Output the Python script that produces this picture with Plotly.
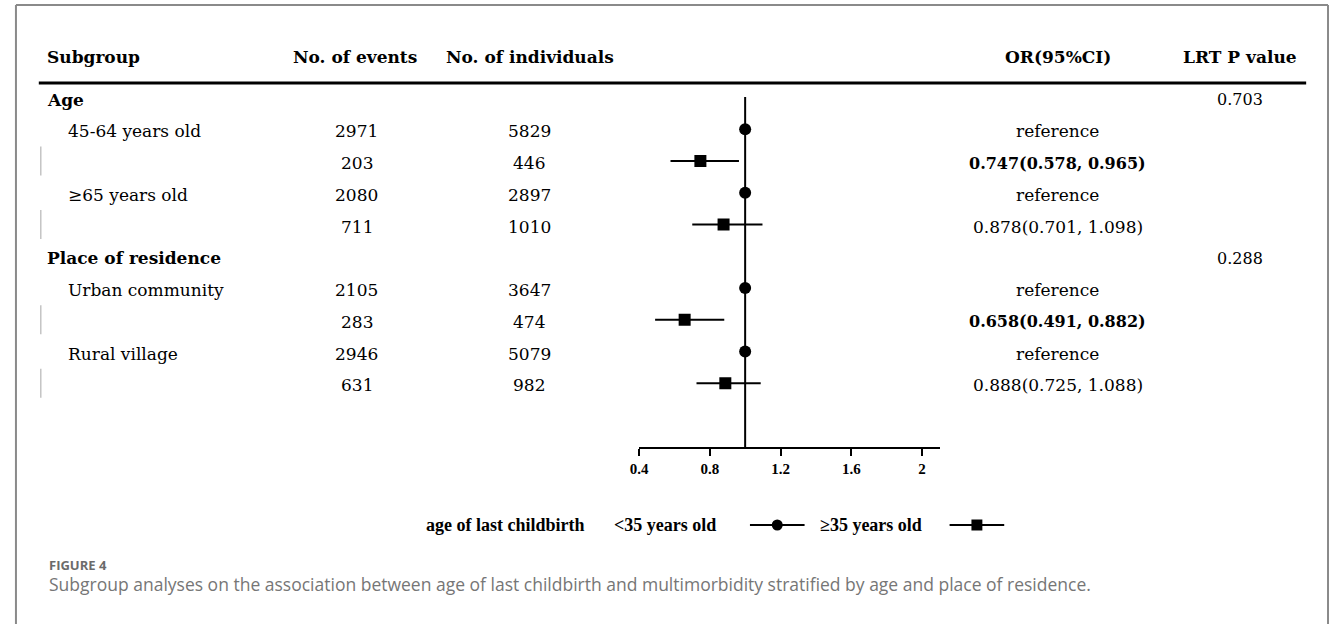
import plotly.graph_objects as go

W, H = 1330, 624

# ---------------- data ----------------
subgroups = ["Age", "45-64 years old", "", "≥65 years old", "",
             "Place of residence", "Urban community", "", "Rural village", ""]
is_group_header = [True, False, False, False, False, True, False, False, False, False]
events = ["", "2971", "203", "2080", "711", "", "2105", "283", "2946", "631"]
individuals = ["", "5829", "446", "2897", "1010", "", "3647", "474", "5079", "982"]
birth_group = ["", "<35", "≥35", "<35", "≥35", "", "<35", "≥35", "<35", "≥35"]
odds_ratio = [None, 1.0, 0.747, 1.0, 0.878, None, 1.0, 0.658, 1.0, 0.888]
ci_low = [None, None, 0.578, None, 0.701, None, None, 0.491, None, 0.725]
ci_high = [None, None, 0.965, None, 1.098, None, None, 0.882, None, 1.088]
or_labels = ["", "reference", "0.747(0.578, 0.965)", "reference", "0.878(0.701, 1.098)",
             "", "reference", "0.658(0.491, 0.882)", "reference", "0.888(0.725, 1.088)"]
or_significant = [False, False, True, False, False, False, False, True, False, False]
lrt_p = ["0.703", "", "", "", "", "0.288", "", "", "", ""]
x_ticks = [0.4, 0.8, 1.2, 1.6, 2]
x_tick_labels = ["0.4", "0.8", "1.2", "1.6", "2"]
column_headers = ["Subgroup", "No. of events", "No. of individuals", "OR(95%CI)", "LRT P value"]
legend_title = "age of last childbirth"
legend_labels = ["<35 years old", "≥35 years old"]
caption_label = "FIGURE 4"
caption_text = ("Subgroup analyses on the association between age of last childbirth and "
                "multimorbidity stratified by age and place of residence.")

# ---------------- helpers ----------------
def px(p):
    return p / W

def py(p):
    return 1 - p / H

SERIF = "DejaVu Serif"
TXT = 17

rows = list(range(len(subgroups)))
ref_idx = [i for i in rows if birth_group[i] == "<35"]
exp_idx = [i for i in rows if birth_group[i] == "≥35"]

fig = go.Figure()

# reference (<35) circles
fig.add_trace(go.Scatter(
    x=[odds_ratio[i] for i in ref_idx], y=ref_idx, mode="markers",
    marker=dict(symbol="circle", size=12, color="black"),
    name=legend_labels[0], hoverinfo="skip"))

# >=35 squares with CI
fig.add_trace(go.Scatter(
    x=[odds_ratio[i] for i in exp_idx], y=exp_idx, mode="markers",
    marker=dict(symbol="square", size=12, color="black"),
    error_x=dict(type="data", symmetric=False,
                 array=[ci_high[i] - odds_ratio[i] for i in exp_idx],
                 arrayminus=[odds_ratio[i] - ci_low[i] for i in exp_idx],
                 thickness=2, width=0, color="black"),
    name=legend_labels[1], hoverinfo="skip"))

# axis geometry (pixels)
x0_px, unit_px = 634.3, 178.1
x_range = [0.4, 2.1]
y_top_px, y_bot_px = 97, 447
row0_px, row_step = 97.5, 31.75

fig.update_layout(
    width=W, height=H, autosize=False,
    margin=dict(l=0, r=0, t=0, b=0),
    paper_bgcolor="white", plot_bgcolor="white",
    showlegend=False,
    xaxis=dict(
        range=x_range,
        domain=[px(x0_px), px(x0_px + (x_range[1] - x_range[0]) * unit_px)],
        showline=True, linewidth=2, linecolor="black",
        ticks="outside", ticklen=7, tickwidth=2, tickcolor="black",
        tickvals=x_ticks, ticktext=["<b>%s</b>" % t for t in x_tick_labels],
        tickfont=dict(family="Liberation Serif", size=15, color="black"),
        showgrid=False, zeroline=False, fixedrange=True,
    ),
    yaxis=dict(
        range=[(y_bot_px - row0_px) / row_step, (y_top_px - row0_px) / row_step],
        domain=[py(y_bot_px), py(y_top_px)],
        visible=False, showgrid=False, zeroline=False, fixedrange=True,
    ),
)

shapes = []
# vertical line of no effect
shapes.append(dict(type="line", xref="x", yref="y domain", x0=1, x1=1, y0=0, y1=1,
                   line=dict(color="black", width=2), layer="below"))
# header rule
shapes.append(dict(type="line", xref="paper", yref="paper", x0=px(30), x1=px(1306),
                   y0=py(83), y1=py(83), line=dict(color="black", width=3)))
# faint left marks on the >=35 rows
for i in exp_idx:
    shapes.append(dict(type="line", xref="paper", yref="y", x0=px(32), x1=px(32),
                       y0=i - 0.46, y1=i + 0.46, line=dict(color="#c4c4c4", width=1.5)))
# outer frame
frame = dict(color="#8a8a8a", width=2)
shapes.append(dict(type="line", xref="paper", yref="paper", x0=px(7), x1=px(1328),
                   y0=py(5), y1=py(5), line=frame))
shapes.append(dict(type="line", xref="paper", yref="paper", x0=px(7), x1=px(7),
                   y0=py(5), y1=0, line=frame))
shapes.append(dict(type="line", xref="paper", yref="paper", x0=px(1328), x1=px(1328),
                   y0=py(5), y1=0, line=frame))

# legend sample lines / markers
leg_y = 525
for (lx0, lx1, sym) in [(746, 801, "circle"), (947, 1002, "square")]:
    shapes.append(dict(type="line", xref="paper", yref="paper", x0=px(lx0), x1=px(lx1),
                       y0=py(leg_y), y1=py(leg_y), line=dict(color="black", width=2)))
    cx = (lx0 + lx1) / 2
    r = 5.5
    shapes.append(dict(type="circle" if sym == "circle" else "rect",
                       xref="paper", yref="paper",
                       x0=px(cx - r), x1=px(cx + r), y0=py(leg_y + r), y1=py(leg_y - r),
                       fillcolor="black", line=dict(color="black", width=0)))

fig.update_layout(shapes=shapes)

ann = []

def add_text(text, x, y, xanchor="center", yref="paper", size=TXT, family=SERIF,
             color="black", bold=False, yshift=0):
    ann.append(dict(text=("<b>%s</b>" % text) if bold else text,
                    x=px(x), y=(py(y) if yref == "paper" else y),
                    xref="paper", yref=yref, xanchor=xanchor, yanchor="middle",
                    yshift=yshift, showarrow=False,
                    font=dict(family=family, size=size, color=color)))

# column headers
hdr_y = 57
hdr_x = [(36, "left"), (348, "center"), (525, "center"), (1056, "center"), (1239, "center")]
for t, (x, a) in zip(column_headers, hdr_x):
    add_text(t, x, hdr_y, xanchor=a, bold=True)

# table rows
RS = -2
for i in rows:
    if subgroups[i]:
        if is_group_header[i]:
            add_text(subgroups[i], 36, i, xanchor="left", yref="y", bold=True, yshift=RS)
        else:
            add_text(subgroups[i], 57, i, xanchor="left", yref="y", yshift=RS)
    if events[i]:
        add_text(events[i], 350, i, yref="y", yshift=RS)
    if individuals[i]:
        add_text(individuals[i], 524, i, yref="y", yshift=RS)
    if or_labels[i]:
        if or_significant[i]:
            add_text(or_labels[i], 1056, i, yref="y", bold=True, size=16, yshift=RS)
        else:
            add_text(or_labels[i], 1056, i, yref="y", yshift=RS)
    if lrt_p[i]:
        add_text(lrt_p[i], 1239, i, yref="y", size=16, yshift=RS)

# legend texts
LEG_FONT = "Liberation Serif"
add_text(legend_title, 582, leg_y, xanchor="right", family=LEG_FONT, size=18, bold=True)
add_text(legend_labels[0].replace("<", "&lt;"), 607, leg_y, xanchor="left",
         family=LEG_FONT, size=18, bold=True)
add_text(legend_labels[1], 815, leg_y, xanchor="left",
         family=LEG_FONT, size=18, bold=True)

# caption
add_text(caption_label, 38, 565, xanchor="left", family="Open Sans", size=13,
         color="#6b6b6b", bold=True)
add_text(caption_text, 38, 584, xanchor="left", family="Open Sans", size=17.5,
         color="#767676")

fig.update_layout(annotations=ann)

fig.write_html("out.html")
